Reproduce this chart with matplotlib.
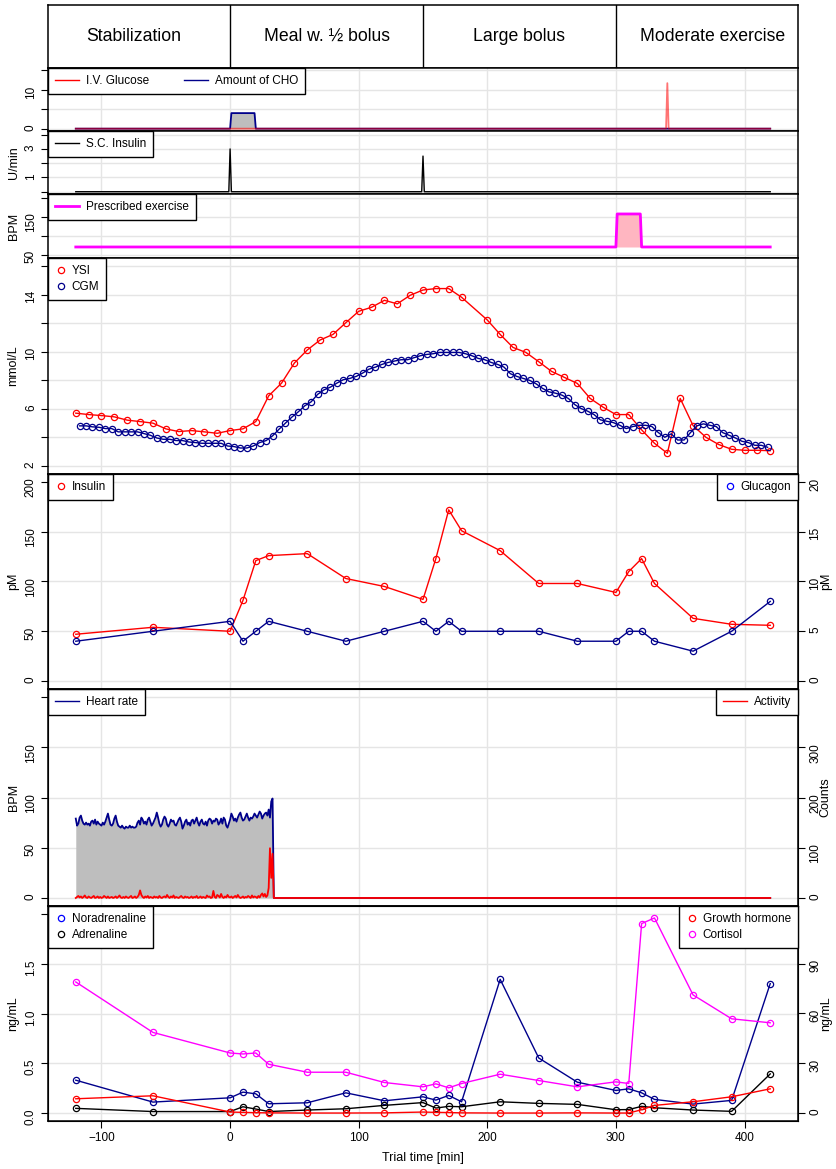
import matplotlib
matplotlib.use("Agg")
import matplotlib.pyplot as plt
from matplotlib.lines import Line2D
import numpy as np

plt.rcParams['font.family'] = ['Liberation Sans', 'DejaVu Sans']
plt.rcParams['font.size'] = 8.5

# trial phases
phase_names = ["Stabilization", "Meal w. ½ bolus", "Large bolus", "Moderate exercise"]
phase_starts = [0, 150, 300]
phase_centres = [-75, 75, 225, 375]

# infusions, meal, insulin bolus, prescribed exercise
cho_t = [-120, 0, 1, 19, 20, 420]
cho_v = [0, 0, 4, 4, 0, 0]
ivg_t = [-120, 339, 340, 341, 420]
ivg_v = [0, 0, 11.7, 0, 0]
sci_t = [-120, -1, 0, 1, 149, 150, 151, 420]
sci_v = [0, 0, 3.0, 0, 0, 2.5, 0, 0]
ex_t = [-120, 300, 301, 319, 320, 420]
ex_v = [70, 70, 157, 157, 70, 70]

# plasma glucose (YSI) and CGM, mmol/L
ysi_t = [-120, -110, -100, -90, -80, -70, -60, -50, -40, -30, -20, -10, 0, 10, 20, 30,
         40, 50, 60, 70, 80, 90, 100, 110, 120, 130, 140, 150, 160, 170, 180,
         200, 210, 220, 230, 240, 250, 260, 270, 280, 290, 300, 310, 320, 330, 340,
         350, 360, 370, 380, 390, 400, 410, 420]
ysi_v = [5.70, 5.60, 5.53, 5.44, 5.21, 5.11, 5.00, 4.60, 4.41, 4.48, 4.39, 4.29, 4.48, 4.60, 5.11, 6.91,
         7.80, 9.21, 10.12, 10.82, 11.21, 12.03, 12.83, 13.11, 13.60, 13.35, 13.95, 14.32, 14.42, 14.42, 13.81,
         12.22, 11.21, 10.30, 9.95, 9.30, 8.62, 8.20, 7.78, 6.73, 6.12, 5.60, 5.60, 4.53, 3.59, 2.89,
         6.73, 4.83, 4.01, 3.50, 3.17, 3.10, 3.10, 3.07]
cgm_t = np.arange(-117, 419, 5)
cgm_v = [4.81, 4.81, 4.74, 4.71, 4.62, 4.62, 4.39, 4.39, 4.39, 4.39,
         4.27, 4.15, 3.96, 3.87, 3.87, 3.78, 3.78, 3.68, 3.64, 3.59,
         3.59, 3.59, 3.59, 3.40, 3.36, 3.26, 3.26, 3.40, 3.64, 3.78,
         4.11, 4.57, 5.00, 5.42, 5.79, 6.21, 6.49, 7.01, 7.33, 7.52,
         7.80, 8.04, 8.13, 8.27, 8.50, 8.78, 8.92, 9.11, 9.25, 9.35,
         9.44, 9.44, 9.58, 9.72,
         9.81, 9.86, 9.95, 9.95, 9.95, 9.95, 9.86, 9.72, 9.53, 9.44,
         9.25, 9.11, 8.92, 8.46, 8.27, 8.13, 7.99, 7.75, 7.43, 7.19,
         7.10, 6.96, 6.73, 6.30, 6.02, 5.84, 5.60, 5.23, 5.13, 5.04,
         4.85, 4.62, 4.76, 4.85, 4.85, 4.76, 4.34, 4.01, 4.25, 3.82,
         3.82, 4.34, 4.81, 4.95, 4.85, 4.76, 4.34, 4.15, 3.96, 3.73,
         3.64, 3.45, 3.45, 3.31]

# blood samples
sample_t = [-120, -60, 0, 10, 20, 30, 60, 90, 120, 150, 160, 170, 180,
            210, 240, 270, 300, 310, 320, 330, 360, 390, 420]
insulin = [47, 54, 50, 81, 121, 126, 128, 103, 95, 82, 123, 172, 151,
           131, 98, 98, 89, 110, 123, 98, 63, 57, 56]
glucagon = [4, 5, 6, 4, 5, 6, 5, 4, 5, 6, 5, 6, 5,
            5, 5, 4, 4, 5, 5, 4, 3, 5, 8]
noradrenaline = [0.33, 0.11, 0.153, 0.21, 0.193, 0.093, 0.103, 0.203, 0.123, 0.163, 0.13, 0.177, 0.113,
                 1.343, 0.553, 0.31, 0.227, 0.243, 0.203, 0.137, 0.09, 0.127, 1.30]
adrenaline = [0.047, 0.015, 0.015, 0.063, 0.04, 0.015, 0.03, 0.043, 0.077, 0.105, 0.05, 0.067, 0.063,
              0.113, 0.097, 0.087, 0.033, 0.035, 0.067, 0.053, 0.03, 0.017, 0.393]
growth_hormone = [8.6, 10.4, 0.6, 0.4, 0.2, 0.1, 0, 0, 0.1, 0.6, 0.4, 0.3, 0.1,
                  0, 0, 0.1, 0, 0, 2.0, 4.6, 6.8, 9.8, 14.6]
cortisol = [79, 48.6, 36.2, 35.6, 36.2, 29.4, 24.6, 24.6, 18.4, 15.8, 17.6, 15.2, 17.8,
            23.4, 19.6, 15.8, 18.8, 17.8, 114.2, 117.6, 71.2, 56.8, 54.4]

# heart rate (BPM) and activity (counts), one value per minute until the monitor stops
hr_t = list(range(-120, 34)) + [34, 420]
hr_v = [79, 72, 74, 80, 82, 77, 74, 73, 75, 73,
        74, 72, 76, 77, 74, 78, 73, 76, 74, 73,
        72, 75, 73, 76, 80, 84, 78, 73, 72, 74,
        79, 82, 76, 72, 71, 70, 72, 70, 69, 71,
        70, 70, 72, 70, 71, 70, 70, 71, 75, 77,
        73, 80, 78, 74, 76, 73, 78, 80, 76, 72,
        74, 77, 80, 85, 80, 74, 71, 73, 78, 81,
        79, 73, 71, 74, 78, 76, 77, 73, 72, 75,
        78, 80, 76, 69, 72, 76, 78, 73, 75, 72,
        77, 78, 74, 77, 80, 75, 72, 76, 78, 74,
        73, 76, 72, 77, 79, 78, 74, 77, 76, 79,
        78, 73, 75, 79, 74, 80, 78, 72, 70, 74,
        78, 84, 81, 77, 79, 76, 80, 83, 85, 80,
        77, 78, 81, 84, 80, 77, 80, 79, 81, 84,
        82, 80, 83, 86, 84, 79, 82, 84, 85, 82,
        88, 80, 96, 99, 0, 0]
act_v = [0, 2, 4, 1, 3, 0, 2, 5, 1, 0,
         3, 1, 0, 2, 4, 0, 1, 3, 0, 2,
         0, 1, 4, 2, 0, 3, 0, 1, 2, 0,
         1, 3, 0, 2, 5, 1, 0, 2, 0, 3,
         1, 0, 2, 4, 0, 1, 3, 0, 2, 6,
         15, 6, 2, 0, 3, 1, 4, 0, 2, 1,
         0, 3, 1, 2, 0, 4, 1, 0, 2, 3,
         1, 6, 2, 0, 3, 1, 5, 0, 2, 1,
         0, 2, 4, 1, 0, 3, 1, 2, 0, 1,
         3, 0, 2, 1, 4, 0, 1, 3, 0, 2,
         1, 0, 5, 2, 3, 0, 1, 14, 2, 0,
         6, 4, 1, 8, 2, 0, 3, 1, 6, 2,
         1, 3, 0, 2, 4, 1, 6, 2, 0, 1,
         3, 0, 2, 1, 4, 2, 0, 5, 1, 3,
         2, 0, 4, 1, 6, 9, 3, 8, 2, 5,
         20, 99, 40, 88, 0, 0]

W, H = 836, 1169
fig = plt.figure(figsize=(W / 100, H / 100), dpi=100)
XLIM = (-141.6, 441.6)
XTICKS = [-100, 0, 100, 200, 300, 400]
GRID = '#e5e5e5'


def panel(top, bottom):
    ax = fig.add_axes([48 / W, 1 - bottom / H, 750 / W, (bottom - top) / H])
    ax.set_xlim(*XLIM)
    for s in ax.spines.values():
        s.set_linewidth(1.1)
    return ax


def style(ax, ylim, yticks, ylabels, ylabel=None):
    ax.set_ylim(*ylim)
    ax.set_xticks(XTICKS)
    ax.set_yticks(yticks)
    ax.set_yticklabels(ylabels)
    ax.tick_params(axis='x', length=0, labelbottom=False)
    ax.tick_params(axis='y', length=5, width=0.8, pad=3, labelrotation=90)
    ax.grid(True, color=GRID, lw=1.0)
    ax.set_axisbelow(True)
    if ylabel:
        ax.set_ylabel(ylabel, fontsize=9)
        ax.yaxis.set_label_coords(-0.038, 0.5)


def style_right(tw, ylim, yticks, ylabel):
    tw.set_ylim(*ylim)
    tw.set_yticks(yticks)
    tw.tick_params(axis='y', length=5, width=0.8, pad=3, labelrotation=90)
    tw.set_ylabel(ylabel, fontsize=9)
    tw.yaxis.set_label_coords(1.029, 0.5)


def box_legend(ax, handles, labels, right=False, **kw):
    loc, anchor = ('upper right', (1, 1)) if right else ('upper left', (0, 1))
    leg = ax.legend(handles, labels, loc=loc, bbox_to_anchor=anchor, borderaxespad=0,
                    fancybox=False, framealpha=1, edgecolor='black', fontsize=8.5,
                    borderpad=0.6, labelspacing=0.35, **kw)
    leg.get_frame().set_linewidth(1.0)
    return leg


def line_h(c, lw=1.0):
    return Line2D([], [], color=c, lw=lw)


def circ_h(c):
    return Line2D([], [], ls='none', marker='o', mfc='none', mec=c, ms=4.5, mew=0.9)


circ_kw = dict(handlelength=1.0, handletextpad=0.4)
line_kw = dict(handlelength=2.0, handletextpad=0.6)
mk = dict(marker='o', mfc='none', ms=4.5, mew=0.9, lw=1.0)

# header with phase names
hdr = panel(5, 68)
hdr.set_ylim(0, 1)
hdr.set_xticks([])
hdr.set_yticks([])
for t in phase_starts:
    hdr.axvline(t, color='black', lw=1.0)
for name, c in zip(phase_names, phase_centres):
    hdr.text(c, 0.5, name, ha='center', va='center', fontsize=12.7)

# I.V. glucose and CHO
ax2 = panel(68, 131)
style(ax2, (-0.6, 15.6), [0, 5, 10, 15], ['0', '', '10', ''])
ax2.fill_between(cho_t, cho_v, 0, color='#bebebe', lw=0)
ax2.plot(cho_t, cho_v, color='darkblue', lw=1.3)
ax2.plot(ivg_t, ivg_v, color='red', lw=1.3, alpha=0.55)
box_legend(ax2, [line_h('red'), line_h('darkblue')], ['I.V. Glucose', 'Amount of CHO'],
           ncol=2, columnspacing=3.0, **line_kw)

# S.C. insulin
ax3 = panel(131, 194)
style(ax3, (-0.16, 4.26), [0, 1, 2, 3, 4], ['', '1', '', '3', ''], 'U/min')
ax3.plot(sci_t, sci_v, color='black', lw=1.0)
box_legend(ax3, [line_h('black')], ['S.C. Insulin'], **line_kw)

# prescribed exercise
ax4 = panel(194, 258)
style(ax4, (41, 209.6), [50, 100, 150, 200], ['50', '', '150', ''], 'BPM')
ax4.fill_between(ex_t, ex_v, min(ex_v), color='lightpink', lw=0)
ax4.plot(ex_t, ex_v, color='magenta', lw=2.0)
box_legend(ax4, [line_h('magenta', 2.0)], ['Prescribed exercise'], **line_kw)

# glucose
ax5 = panel(258, 474)
style(ax5, (1.44, 16.56), [2, 4, 6, 8, 10, 12, 14, 16],
      ['2', '', '6', '', '10', '', '14', ''], 'mmol/L')
ax5.plot(ysi_t, ysi_v, color='red', mec='red', **mk)
ax5.plot(cgm_t, cgm_v, color='darkblue', mec='darkblue', **mk)
box_legend(ax5, [circ_h('red'), circ_h('darkblue')], ['YSI', 'CGM'], **circ_kw)

# insulin / glucagon
ax6 = panel(474, 689)
style(ax6, (-8, 208), [0, 50, 100, 150, 200], ['0', '50', '100', '150', '200'], 'pM')
tw6 = ax6.twinx()
style_right(tw6, (-0.8, 20.8), [0, 5, 10, 15, 20], 'pM')
ax6.plot(sample_t, insulin, color='red', mec='red', **mk)
tw6.plot(sample_t, glucagon, color='darkblue', mec='darkblue', **mk)
box_legend(ax6, [circ_h('red')], ['Insulin'], **circ_kw)
box_legend(tw6, [circ_h('blue')], ['Glucagon'], right=True, **circ_kw)

# heart rate / activity
ax7 = panel(689, 906)
style(ax7, (-8, 208), [0, 50, 100, 150, 200], ['0', '50', '100', '150', ''], 'BPM')
tw7 = ax7.twinx()
style_right(tw7, (-16, 416), [0, 100, 200, 300], 'Counts')
ax7.fill_between(hr_t, hr_v, 0, color='#bebebe', lw=0)
ax7.plot(hr_t, hr_v, color='darkblue', lw=1.3)
tw7.plot(hr_t, act_v, color='red', lw=1.3)
box_legend(ax7, [line_h('darkblue')], ['Heart rate'], **line_kw)
box_legend(tw7, [line_h('red')], ['Activity'], right=True, **line_kw)

# stress hormones
ax8 = panel(906, 1121)
style(ax8, (-0.08, 2.08), [0, 0.5, 1.0, 1.5, 2.0], ['0.0', '0.5', '1.0', '1.5', ''], 'ng/mL')
ax8.tick_params(axis='x', length=5, width=0.8, pad=3, labelbottom=True)
ax8.set_xlabel('Trial time [min]', fontsize=9)
ax8.xaxis.set_label_coords(0.5, -0.142)
tw8 = ax8.twinx()
style_right(tw8, (-4.8, 124.8), [0, 30, 60, 90], 'ng/mL')
ax8.plot(sample_t, noradrenaline, color='darkblue', mec='darkblue', **mk)
ax8.plot(sample_t, adrenaline, color='black', mec='black', **mk)
tw8.plot(sample_t, growth_hormone, color='red', mec='red', **mk)
tw8.plot(sample_t, cortisol, color='magenta', mec='magenta', **mk)
box_legend(ax8, [circ_h('blue'), circ_h('black')], ['Noradrenaline', 'Adrenaline'], **circ_kw)
box_legend(tw8, [circ_h('red'), circ_h('magenta')], ['Growth hormone', 'Cortisol'],
           right=True, **circ_kw)

fig.savefig('out.png', dpi=100)
